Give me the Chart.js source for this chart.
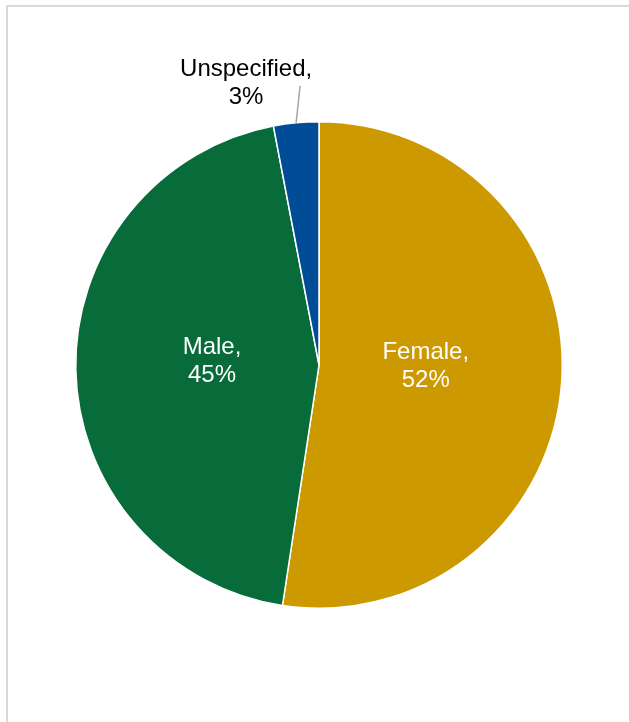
<!DOCTYPE html>
<html>
<head>
<meta charset="utf-8">
<script src="https://cdn.jsdelivr.net/npm/chart.js@4.4.1/dist/chart.umd.min.js"></script>
<style>
  html, body { margin: 0; padding: 0; background: #fff; overflow: hidden; }
  #frame { position: absolute; left: 6px; top: 5px; width: 700px; height: 800px; border: 2px solid #d9d9d9; }
  #wrap { position: absolute; left: 0; top: 0; width: 629px; height: 722px; }
</style>
</head>
<body>
<div id="frame"></div>
<div id="wrap"><canvas id="grafico"></canvas></div>
<script>
// Datos
const categories = ['Female', 'Male', 'Unspecified'];
const shares = [52.4, 44.6, 3.0];
const sliceColors = ['#cc9900', '#076b3a', '#004c97'];

// Etiquetas dentro/fuera de cada porción
const pieLabels = {
  id: 'pieLabels',
  afterDatasetsDraw(chart) {
    const ctx = chart.ctx;
    const arcs = chart.getDatasetMeta(0).data;
    ctx.save();
    ctx.font = '24px Arial, "Liberation Sans", sans-serif';
    ctx.textAlign = 'center';
    ctx.textBaseline = 'alphabetic';
    arcs.forEach((arc, i) => {
      const mid = (arc.startAngle + arc.endAngle) / 2;
      const line1 = categories[i] + ',';
      const line2 = Math.round(shares[i]) + '%';
      if (shares[i] >= 10) {
        const k = 0.44;
        const lx = arc.x + Math.cos(mid) * arc.outerRadius * k;
        const ly = arc.y + Math.sin(mid) * arc.outerRadius * k * 0.7 - 6;
        ctx.fillStyle = '#ffffff';
        ctx.fillText(line1, lx, ly - 6);
        ctx.fillText(line2, lx, ly + 22);
      } else {
        // etiqueta exterior con línea guía
        const ox = arc.x + Math.cos(mid) * arc.outerRadius;
        const oy = arc.y + Math.sin(mid) * arc.outerRadius;
        const ex = ox + 4, ey = oy - 37;
        ctx.strokeStyle = '#a6a6a6';
        ctx.lineWidth = 1.5;
        ctx.beginPath();
        ctx.moveTo(ox, oy);
        ctx.lineTo(ex, ey);
        ctx.stroke();
        ctx.fillStyle = '#000000';
        ctx.fillText(line1, ex - 54, ey - 10);
        ctx.fillText(line2, ex - 54, ey + 18);
      }
    });
    ctx.restore();
  }
};

const ctx = document.getElementById('grafico').getContext('2d');
const grafico = new Chart(ctx, {
  type: 'pie',
  data: {
    labels: categories,
    datasets: [{
      data: shares,
      backgroundColor: sliceColors,
      borderColor: '#ffffff',
      borderWidth: 1.5
    }]
  },
  options: {
    responsive: true,
    maintainAspectRatio: false,
    animation: false,
    events: [],
    layout: { padding: { left: 75, right: 66, top: 121, bottom: 113 } },
    plugins: {
      legend: { display: false },
      tooltip: { enabled: false }
    }
  },
  plugins: [pieLabels]
});
</script>
</body>
</html>
